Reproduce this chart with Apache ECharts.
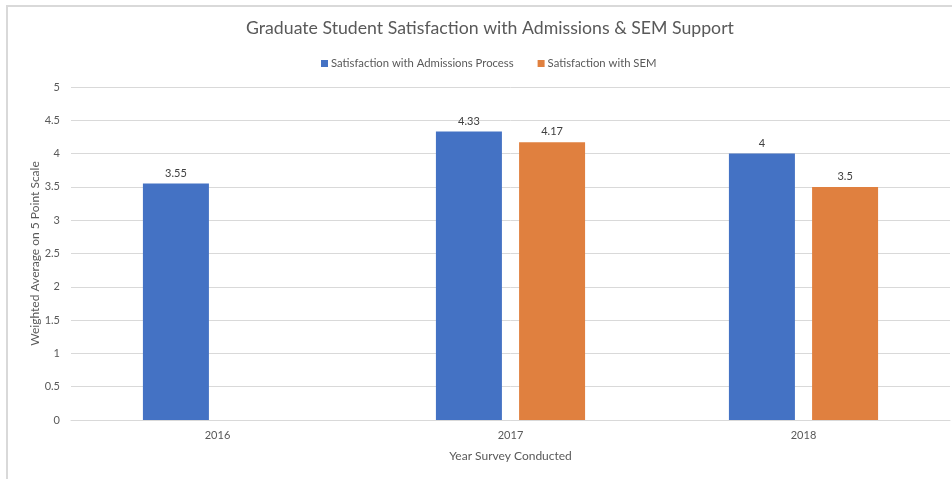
<!DOCTYPE html>
<html>
<head>
<meta charset="utf-8">
<script src="https://cdn.jsdelivr.net/npm/echarts@6/dist/echarts.min.js"></script>
<style>
  html, body { margin: 0; padding: 0; background: #fff; }
  #chart { width: 952px; height: 479px; }
</style>
</head>
<body>
<div id="chart"></div>
<script>
// Survey years and weighted averages (5 point scale)
const years = ['2016', '2017', '2018'];
const admissionsProcess = [3.55, 4.33, 4];
const semSupport = [null, 4.17, 3.5];
const seriesNames = ['Satisfaction with Admissions Process', 'Satisfaction with SEM'];

const textFont = 'Lato, "Open Sans", sans-serif';
const gridGray = '#d9d9d9';

const chart = echarts.init(document.getElementById('chart'), null, { renderer: 'canvas' });

const barLabel = {
  show: true,
  position: 'top',
  distance: 5,
  color: '#404040',
  fontSize: 11,
  fontFamily: textFont
};

chart.setOption({
  animation: false,
  backgroundColor: '#ffffff',
  title: {
    text: 'Graduate Student Satisfaction with Admissions & SEM Support',
    left: 241,
    top: 14,
    textStyle: { color: '#595959', fontSize: 17.7, fontWeight: 'normal', fontFamily: textFont }
  },
  legend: {
    top: 53,
    left: 316,
    itemWidth: 7,
    itemHeight: 7,
    itemGap: 24,
    icon: 'rect',
    textStyle: { color: '#595959', fontSize: 11.3, fontFamily: textFont, padding: [0, 0, 0, -2] },
    data: seriesNames
  },
  graphic: [{
    type: 'polyline',
    shape: { points: [[7, 479], [7, 6], [952, 6]] },
    style: { stroke: gridGray, lineWidth: 2, fill: null },
    silent: true
  }],
  grid: { left: 71, right: 2, top: 87, bottom: 59, containLabel: false },
  xAxis: {
    type: 'category',
    data: years,
    axisTick: { show: false },
    axisLine: { lineStyle: { color: gridGray, width: 1 } },
    axisLabel: { color: '#595959', fontSize: 11, fontFamily: textFont, margin: 10 },
    name: 'Year Survey Conducted',
    nameLocation: 'middle',
    nameGap: 30,
    nameMoveOverlap: false,
    nameTextStyle: { color: '#595959', fontSize: 12, fontFamily: textFont }
  },
  yAxis: {
    type: 'value',
    min: 0,
    max: 5,
    interval: 0.5,
    axisLine: { show: false },
    axisTick: { show: false },
    splitLine: { lineStyle: { color: gridGray, width: 1 } },
    axisLabel: { color: '#595959', fontSize: 11, fontFamily: textFont, margin: 11 },
    name: 'Weighted Average on 5 Point Scale',
    nameLocation: 'middle',
    nameRotate: 90,
    nameGap: 30,
    nameMoveOverlap: false,
    nameTextStyle: { color: '#595959', fontSize: 12, fontFamily: textFont }
  },
  series: [
    {
      name: seriesNames[0],
      type: 'bar',
      data: admissionsProcess,
      barWidth: 66,
      barGap: '26%',
      itemStyle: { color: '#4472C4' },
      label: barLabel
    },
    {
      name: seriesNames[1],
      type: 'bar',
      data: semSupport,
      barWidth: 66,
      barGap: '26%',
      itemStyle: { color: '#E0803F' },
      label: barLabel
    }
  ]
});
</script>
</body>
</html>
